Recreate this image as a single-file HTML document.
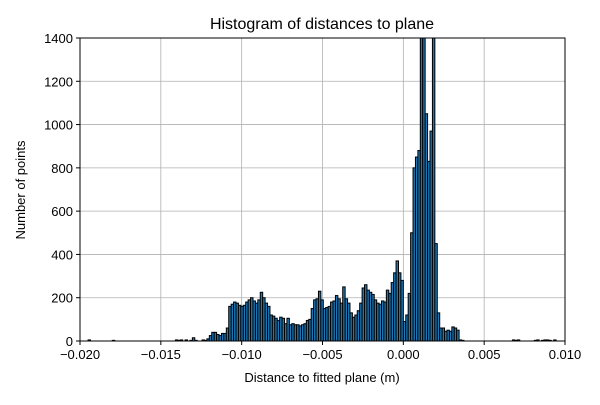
<!DOCTYPE html>
<html><head><meta charset="utf-8"><style>
body{margin:0;background:#fff;}
svg{font-family:"Liberation Sans","DejaVu Sans",sans-serif;}
</style></head><body>
<svg id="chart" width="600" height="400">
<defs><clipPath id="pc"><rect x="80" y="38" width="485" height="303"/></clipPath></defs>
<rect x="0" y="0" width="600" height="400" fill="#fff"/>
<g id="grid"></g>
<g id="bars" clip-path="url(#pc)"></g>
<rect x="80" y="38" width="485" height="303" fill="none" stroke="#000" stroke-width="1"/>
<g id="ticks"></g>
<text x="322" y="29" font-size="16" text-anchor="middle">Histogram of distances to plane</text>
<text x="322" y="382" font-size="13" text-anchor="middle">Distance to fitted plane (m)</text>
<text x="25" y="190" font-size="13" text-anchor="middle" transform="rotate(-90 25 190)">Number of points</text>
</svg>
<script>
const binStart = -0.0195;
const binWidth = 0.00015;
const counts = [5,0,0,0,0,0,0,0,0,0,3,0,0,0,0,0,0,0,0,0,0,0,0,0,0,0,0,0,0,0,0,0,0,0,0,0,5,3,5,0,5,0,3,15,3,0,0,5,3,10,
25,40,40,30,25,35,35,60,160,170,180,175,165,160,165,180,190,200,185,175,190,225,200,175,160,120,115,105,95,110,
105,80,105,75,80,75,75,70,75,80,95,100,150,190,195,230,190,150,155,160,180,185,210,195,175,250,195,175,130,110,
120,140,175,245,260,235,225,215,190,175,170,185,180,235,220,270,315,370,315,280,90,120,220,500,800,850,880,1500,1500,1050,
830,970,1500,450,130,60,60,45,50,45,65,60,50,5,3,0,0,0,0,0,0,0,0,0,0,0,0,0,0,0,0,0,0,0,
0,5,3,5,0,0,0,0,0,0,3,5,0,3,5,5,3,0,5,0];
const xTicks = [-0.020,-0.015,-0.010,-0.005,0.000,0.005,0.010];
const xTickLabels = ["\u22120.020","\u22120.015","\u22120.010","\u22120.005","0.000","0.005","0.010"];
const yTicks = [0,200,400,600,800,1000,1200,1400];
const X0=80,X1=565,Y0=341,Y1=38;
const xs = v => X0 + (v - (-0.02)) / 0.03 * (X1 - X0);
const ys = v => Y0 - v / 1400 * (Y0 - Y1);
const NS="http://www.w3.org/2000/svg";
const grid=document.getElementById('grid'),bars=document.getElementById('bars'),ticks=document.getElementById('ticks');
function mk(tag,attrs,parent){const e=document.createElementNS(NS,tag);for(const k in attrs)e.setAttribute(k,attrs[k]);parent.appendChild(e);return e;}
xTicks.forEach((t,i)=>{
  const x=xs(t);
  const g=mk('line',{x1:x,x2:x,y1:Y1,y2:Y0,stroke:'#b0b0b0','stroke-width':0.8},grid);
  
  
  const tk=mk('line',{x1:x,x2:x,y1:Y0,y2:Y0+4,stroke:'#000'},ticks);
  
  
  const tx=mk('text',{x:x,y:Y0+18,'font-size':13,'text-anchor':'middle'},ticks);
  tx.textContent=xTickLabels[i];
  
  
});
yTicks.forEach(t=>{
  const y=ys(t);
  const g=mk('line',{x1:X0,x2:X1,y1:y,y2:y,stroke:'#b0b0b0','stroke-width':0.8},grid);
  
  
  const tk=mk('line',{x1:X0-4,x2:X0,y1:y,y2:y,stroke:'#000'},ticks);
  
  
  const tx=mk('text',{x:X0-7,y:y+5,'font-size':13,'text-anchor':'end'},ticks);
  tx.textContent=String(t);
  
  
});
counts.forEach((c,i)=>{
  if(c<=0)return;
  const a=xs(binStart+i*binWidth),b=xs(binStart+(i+1)*binWidth);
  const r=mk('rect',{x:a,y:ys(c),width:b-a,height:Y0-ys(c),fill:'#1f77b4',stroke:'#000','stroke-width':1},bars);
  
  
});
</script>
</body></html>
